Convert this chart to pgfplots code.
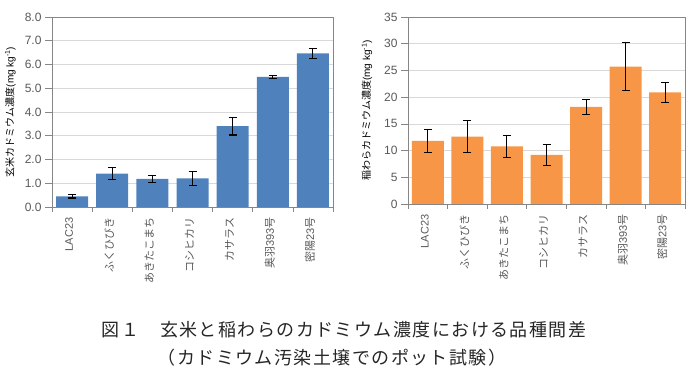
\documentclass[border=0pt]{standalone}
\usepackage{fontspec}
\setmainfont{Liberation Sans}
\newfontfamily\jp{Noto Sans CJK JP}
\newfontfamily\capfont{Noto Sans CJK JP}[LetterSpace=8]
\usepackage{pgfplots}
\pgfplotsset{compat=1.18}
\definecolor{barblue}{HTML}{4F81BD}
\definecolor{barorange}{HTML}{F79646}
\definecolor{txtgray}{HTML}{595959}
\definecolor{axgray}{HTML}{868686}
\definecolor{gridgray}{HTML}{D9D9D9}
\pgfplotsset{
  mybar/.style={
    scale only axis,
    ybar, bar width=32pt,
    xmin=-0.5, xmax=6.5,
    ymin=0,
    xtick={0,...,6},
    xticklabels={LAC23,{\jp ふくひびき},{\jp あきたこまち},{\jp コシヒカリ},{\jp カサラス},{\jp 奥羽}393{\jp 号},{\jp 密陽}23{\jp 号}},
    minor xtick={-0.5,0.5,...,6.5},
    major x tick style={draw=none},
    tick align=outside, tick pos=left,
    major tick length=7pt, minor tick length=5pt,
    tick style={axgray, line width=0.6pt},
    axis line style={axgray, line width=0.6pt},
    ymajorgrids, grid style={gridgray, line width=0.6pt},
    /pgf/number format/assume math mode=true,
    xticklabel style={rotate=90, anchor=east, font=\fontsize{11}{11}\selectfont, text=txtgray, yshift=3pt},
    yticklabel style={font=\fontsize{12}{12}\selectfont, text=txtgray},
    ylabel style={font=\fontsize{11}{11}\selectfont, text=txtgray},
    every axis y label/.style={at={(axis description cs:-0.148,0.5)}, rotate=90, anchor=center},
    error bars/error bar style={black, line width=1.1pt},
    error bars/error mark options={black, line width=1.1pt, mark size=4pt, rotate=90},
  }
}
\begin{document}
\begin{tikzpicture}
\path[use as bounding box] (0pt,0pt) rectangle (700pt,382pt);
\begin{axis}[mybar,
  at={(52pt,175pt)}, anchor=south west,
  width=281pt, height=190pt,
  ymax=8, ytick={0,1,...,8},
  yticklabel style={/pgf/number format/.cd, fixed, fixed zerofill, precision=1},
  ylabel={{\jp 玄米カドミウム濃度}(mg kg\textsuperscript{-1})},
]
\addplot[fill=barblue, draw=none,
  error bars/.cd, y dir=both, y explicit]
  coordinates {
  (0,0.45) +- (0,0.07)
  (1,1.40) +- (0,0.25)
  (2,1.18) +- (0,0.14)
  (3,1.21) +- (0,0.30)
  (4,3.40) +- (0,0.37)
  (5,5.48) +- (0,0.07)
  (6,6.47) +- (0,0.22)
  };
\end{axis}
\begin{axis}[mybar,
  at={(408pt,178pt)}, anchor=south west,
  width=277pt, height=187pt,
  ymax=35, ytick={0,5,...,35},
  ylabel={{\jp 稲わらカドミウム濃度}(mg kg\textsuperscript{-1})},
]
\addplot[fill=barorange, draw=none,
  error bars/.cd, y dir=both, y explicit]
  coordinates {
  (0,11.8) +- (0,2.2)
  (1,12.6) +- (0,3.0)
  (2,10.8) +- (0,2.1)
  (3,9.2) +- (0,2.0)
  (4,18.2) +- (0,1.4)
  (5,25.7) +- (0,4.5)
  (6,20.9) +- (0,1.9)
  };
\end{axis}
\node[font=\capfont\fontsize{18}{18}\selectfont, text=black!85] at (344pt,52pt) {図１　玄米と稲わらのカドミウム濃度における品種間差};
\node[font=\capfont\fontsize{18}{18}\selectfont, text=black!85] at (332pt,24pt) {（カドミウム汚染土壌でのポット試験）};
\end{tikzpicture}
\end{document}
